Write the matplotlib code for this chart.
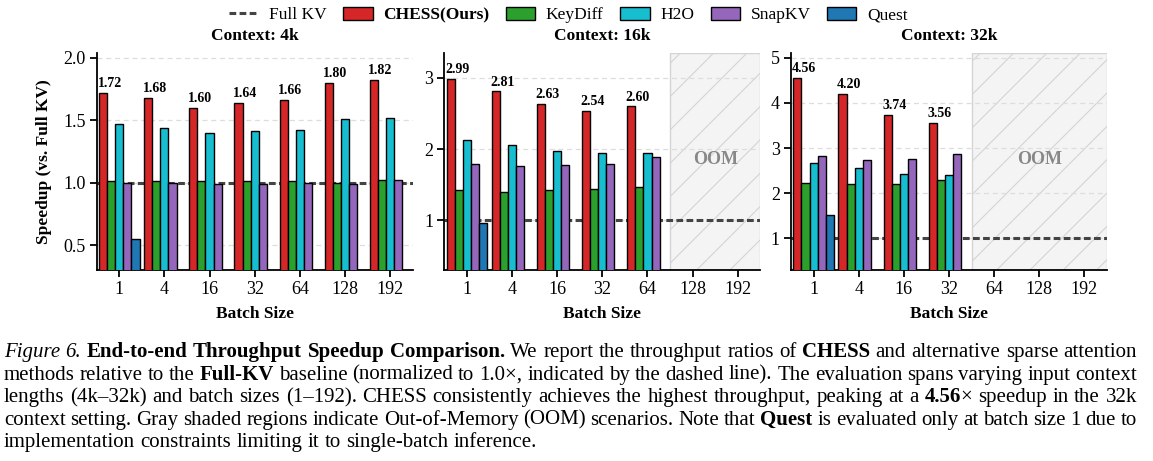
import numpy as np
import matplotlib
matplotlib.use('Agg')
import matplotlib.pyplot as plt
from matplotlib.patches import Patch
from matplotlib.lines import Line2D

plt.rcParams['font.family'] = ['Liberation Serif', 'DejaVu Serif']
plt.rcParams['hatch.linewidth'] = 0.8

# ---- data ----
batch_labels = ['1', '4', '16', '32', '64', '128', '192']
methods = ['CHESS(Ours)', 'KeyDiff', 'H2O', 'SnapKV', 'Quest']
colors = ['#d62728', '#2ca02c', '#17becf', '#9467bd', '#1f77b4']

chess_4k = [1.72, 1.68, 1.60, 1.64, 1.66, 1.80, 1.82]
keydiff_4k = [1.01, 1.01, 1.01, 1.01, 1.01, 1.00, 1.02]
h2o_4k = [1.47, 1.44, 1.40, 1.41, 1.42, 1.51, 1.52]
snapkv_4k = [1.00, 1.00, 0.99, 0.99, 1.00, 0.99, 1.02]
quest_4k = [0.55]

chess_16k = [2.99, 2.81, 2.63, 2.54, 2.60]
keydiff_16k = [1.42, 1.40, 1.42, 1.44, 1.46]
h2o_16k = [2.12, 2.05, 1.97, 1.94, 1.95]
snapkv_16k = [1.79, 1.76, 1.77, 1.79, 1.89]
quest_16k = [0.96]

chess_32k = [4.56, 4.20, 3.74, 3.56]
keydiff_32k = [2.23, 2.20, 2.21, 2.29]
h2o_32k = [2.67, 2.57, 2.43, 2.40]
snapkv_32k = [2.82, 2.73, 2.76, 2.88]
quest_32k = [1.51]

panels = [
    ('Context: 4k', [chess_4k, keydiff_4k, h2o_4k, snapkv_4k, quest_4k], [0.5, 1.0, 1.5, 2.0], '{:.1f}'),
    ('Context: 16k', [chess_16k, keydiff_16k, h2o_16k, snapkv_16k, quest_16k], [1, 2, 3], '{:d}'),
    ('Context: 32k', [chess_32k, keydiff_32k, h2o_32k, snapkv_32k, quest_32k], [1, 2, 3, 4, 5], '{:d}'),
]

W, H = 1153, 461
fig = plt.figure(figsize=(W / 100, H / 100), dpi=100)

bar_w = 0.18
ax_lefts = [96.7, 444.3, 791.0]
ax_w = 316.0
ax_bottom = (H - 270) / H
ax_h = (270 - 53) / H
base_color = '#444444'

for i, (title, series, yticks, fmt) in enumerate(panels):
    ax = fig.add_axes([ax_lefts[i] / W, ax_bottom, ax_w / W, ax_h])
    x_all = np.arange(len(batch_labels))
    for k, (vals, c) in enumerate(zip(series, colors)):
        x = np.arange(len(vals)) + (k - 2) * bar_w
        ax.bar(x, vals, bar_w, color=c, edgecolor='black', linewidth=1.0, zorder=3)
    # labels on CHESS bars
    chess = series[0]
    for j, v in enumerate(chess):
        ax.annotate('%.2f' % v, (j - 2 * bar_w - bar_w / 2, v), xytext=(-1, 2),
                    textcoords='offset points', ha='left', va='bottom',
                    fontsize=10, fontweight='bold')
    # OOM region
    n_ok = len(chess)
    if n_ok < len(batch_labels):
        ax.axvspan(n_ok - 0.5, len(batch_labels) - 0.5, facecolor='#f4f4f4',
                   edgecolor='#d4d4d4', hatch='/', linewidth=1.0, zorder=0.2)
        ax.text((n_ok - 0.5 + len(batch_labels) - 0.5) / 2, 0.51, 'OOM',
                transform=ax.get_xaxis_transform(), ha='center', va='center',
                fontsize=13, fontweight='bold', color='#888888', zorder=4)
    ax.axhline(1.0, color=base_color, linestyle=(0, (2.2, 1.1)), linewidth=2.2, zorder=1.5)

    ax.set_xlim(-0.5, len(batch_labels) - 0.5)
    ax.set_ylim(0.3, max(chess) * 1.12)
    ax.set_xticks(x_all)
    ax.set_xticklabels(batch_labels)
    ax.set_yticks(yticks)
    ax.set_yticklabels([fmt.format(t) for t in yticks])
    ax.tick_params(labelsize=13, length=5, width=1.3, pad=3)
    ax.grid(axis='y', linestyle=(0, (4, 3)), color='#dddddd', linewidth=0.9)
    ax.set_axisbelow(True)
    for s in ['top', 'right']:
        ax.spines[s].set_visible(False)
    for s in ['left', 'bottom']:
        ax.spines[s].set_linewidth(1.3)
    ax.set_xlabel('Batch Size', fontsize=12.5, fontweight='bold', labelpad=6)
    ax.set_title(title, fontsize=12.5, fontweight='bold', pad=9)
    if i == 0:
        ax.set_ylabel('Speedup (vs. Full KV)', fontsize=12.5, fontweight='bold', labelpad=8)

# legend
handles = [Line2D([0], [0], color=base_color, linestyle=(0, (2.2, 1.1)), linewidth=2.2)]
handles += [Patch(facecolor=c, edgecolor='black', linewidth=1.0) for c in colors]
leg = fig.legend(handles, ['Full KV'] + methods, loc='center', bbox_to_anchor=(0.493, 0.967),
                 ncol=6, frameon=False, fontsize=12.5, handlelength=1.7, handleheight=0.75,
                 handletextpad=0.6, columnspacing=0.95, borderpad=0.1)
leg.get_texts()[1].set_fontweight('bold')

# ---- caption (justified) ----
# style suffix '+' = glue the segment to the next one (no space)
cap_lines = [
    [('Figure 6.', 'i'), ('End-to-end Throughput Speedup Comparison.', 'b'),
     ('We report the throughput ratios of', 'n'), ('CHESS', 'b'), ('and alternative sparse attention', 'n')],
    [('methods relative to the', 'n'), ('Full-KV', 'b'), ('baseline (normalized to', 'n'),
     ('1.0\u00d7,', 'n'), ('indicated by the dashed line). The evaluation spans varying input context', 'n')],
    [('lengths (4k\u201332k) and batch sizes (1\u2013192). CHESS consistently achieves the highest throughput, peaking at a', 'n'),
     ('4.56', 'b+'), ('\u00d7', 'n'), ('speedup in the 32k', 'n')],
    [('context setting. Gray shaded regions indicate Out-of-Memory (OOM) scenarios. Note that', 'n'),
     ('Quest', 'b'), ('is evaluated only at batch size 1 due to', 'n')],
    [('implementation constraints limiting it to single-batch inference.', 'n')],
]
cap_base = [357, 379.5, 402, 424.5, 447]
cap_x0, cap_x1 = 4.0, 1137.0
cap_fs = 15
styles = {'n': {}, 'b': {'fontweight': 'bold'}, 'i': {'fontstyle': 'italic'}}

renderer = fig.canvas.get_renderer()
t1 = fig.text(0, 0, 'x x', fontsize=cap_fs)
t2 = fig.text(0, 0, 'xx', fontsize=cap_fs)
space_w = t1.get_window_extent(renderer).width - t2.get_window_extent(renderer).width
t1.remove()
t2.remove()

for li, line in enumerate(cap_lines):
    y = 1 - cap_base[li] / H
    words = []
    for seg, st in line:
        parts = seg.split(' ')
        for pi, w in enumerate(parts):
            glue = st.endswith('+') and pi == len(parts) - 1
            words.append((w, st.rstrip('+'), glue))
    arts = [fig.text(0, y, w, fontsize=cap_fs, va='baseline', ha='left', **styles[st])
            for w, st, g in words]
    widths = [a.get_window_extent(renderer).width for a in arts]
    n_gaps = sum(1 for w in words[:-1] if not w[2])
    if li < len(cap_lines) - 1:
        gap = (cap_x1 - cap_x0 - sum(widths)) / n_gaps
    else:
        gap = space_w
    x = cap_x0
    for a, w, wd in zip(arts, words, widths):
        a.set_x(x / W)
        x += wd + (0 if w[2] else gap)

fig.savefig('out.png', dpi=100)
